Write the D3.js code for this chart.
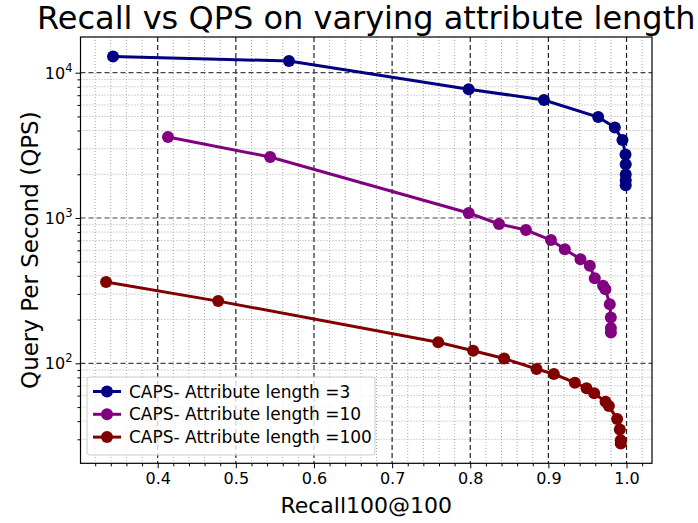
<!DOCTYPE html>
<html><head><meta charset="utf-8">
<script src="https://cdn.jsdelivr.net/npm/d3@7"></script>
<style>body{margin:0;background:#fff}svg{display:block;font-family:"DejaVu Sans",sans-serif}</style>
</head><body><svg id="c" width="698" height="523"></svg>
<script>
const seriesNames = ["CAPS- Attribute length =3","CAPS- Attribute length =10","CAPS- Attribute length =100"];
const seriesColors = ["#000080","#800080","#800000"];
const recall3 = [0.3428,0.568,0.798,0.8943,0.9637,0.985,0.9948,0.9987,0.999,0.999,0.999,0.999];
const qps3    = [12950,12030,7700,6490,4950,4200,3440,2740,2340,1990,1820,1680];
const recall10 = [0.4132,0.5439,0.798,0.8368,0.8713,0.9033,0.921,0.9411,0.953,0.9594,0.970,0.973,0.9786,0.9799,0.980,0.980];
const qps10    = [3610,2630,1082,910,827,705,610,520,470,385,342,323,255,207,175,163];
const recall100 = [0.3339,0.4774,0.759,0.8037,0.8434,0.8848,0.907,0.9339,0.9488,0.9586,0.9731,0.9774,0.988,0.9914,0.9926,0.9926];
const qps100    = [363,268,139.5,122,108,91.4,84.4,73.6,67.3,62.2,54.4,50.8,41.4,35.1,29.6,28.1];
const xTicks = [0.4,0.5,0.6,0.7,0.8,0.9,1.0];
const yTicks = [100,1000,10000];

const series = [
  {name: seriesNames[0], color: seriesColors[0], x: recall3, y: qps3},
  {name: seriesNames[1], color: seriesColors[1], x: recall10, y: qps10},
  {name: seriesNames[2], color: seriesColors[2], x: recall100, y: qps100}
];

const L=80.5, R=652, T=37, B=463.3;
const svg = d3.select("#c");
const x = d3.scaleLinear().domain([0.3012,1.0326]).range([L,R]);
const y = d3.scaleLog().domain([Math.pow(10,1.312),Math.pow(10,4.2457)]).range([B,T]);

const xMinor = d3.range(0.32,1.031,0.02).filter(v=>Math.abs(v*10-Math.round(v*10))>1e-6);
const yMinor = [];
[10,100,1000,10000].forEach(d=>{for(let k=2;k<=9;k++){const v=d*k; if(v>=y.domain()[0]&&v<=y.domain()[1]) yMinor.push(v);}});
const g = svg.append("g");
g.selectAll(".xm").data(xMinor).join("line").attr("x1",d=>x(d)).attr("x2",d=>x(d)).attr("y1",T).attr("y2",B)
 .attr("stroke","#aaaaaa").attr("stroke-width",1).attr("stroke-dasharray","1,2");
g.selectAll(".ym").data(yMinor).join("line").attr("y1",d=>y(d)).attr("y2",d=>y(d)).attr("x1",L).attr("x2",R)
 .attr("stroke","#aaaaaa").attr("stroke-width",1).attr("stroke-dasharray","1,2");
g.selectAll(".xM").data(xTicks).join("line").attr("x1",d=>x(d)).attr("x2",d=>x(d)).attr("y1",T).attr("y2",B)
 .attr("stroke","#222").attr("stroke-width",1.2).attr("stroke-dasharray","5,3");
g.selectAll(".yM").data(yTicks).join("line").attr("y1",d=>y(d)).attr("y2",d=>y(d)).attr("x1",L).attr("x2",R)
 .attr("stroke","#444").attr("stroke-width",1.2).attr("stroke-dasharray","5,3");

series.forEach(s=>{
  const pts = s.x.map((v,i)=>[v,s.y[i]]);
  svg.append("path").datum(pts).attr("fill","none").attr("stroke",s.color).attr("stroke-width",3)
    .attr("d",d3.line().x(d=>x(d[0])).y(d=>y(d[1])));
  svg.append("g").selectAll("circle").data(pts).join("circle")
    .attr("cx",d=>x(d[0])).attr("cy",d=>y(d[1])).attr("r",6).attr("fill",s.color);
});

svg.append("rect").attr("x",L).attr("y",T).attr("width",R-L).attr("height",B-T).attr("fill","none").attr("stroke","#000").attr("stroke-width",1.2);

const xa = svg.append("g").attr("transform",`translate(0,${B})`);
xa.call(d3.axisBottom(x).tickValues(xTicks).tickFormat(d3.format(".1f")).tickSize(5).tickPadding(4));
xa.append("g").call(d3.axisBottom(x).tickValues(xMinor).tickFormat("").tickSize(3));
xa.selectAll(".domain").remove();
xa.selectAll("text").attr("font-size",16).attr("font-family","DejaVu Sans").attr("fill","#000");
xa.selectAll("line").attr("stroke","#000");

const ya = svg.append("g").attr("transform",`translate(${L},0)`);
ya.call(d3.axisLeft(y).tickValues(yTicks).tickFormat("").tickSize(5));
ya.append("g").call(d3.axisLeft(y).tickValues(yMinor).tickFormat("").tickSize(3));
ya.selectAll(".domain").remove();
ya.selectAll("line").attr("stroke","#000");
yTicks.forEach(v=>{
  const t = svg.append("text").attr("x",L-8).attr("y",y(v)+6).attr("text-anchor","end").attr("font-size",16).attr("fill","#000");
  t.append("tspan").text("10");
  t.append("tspan").attr("dy",-7).attr("font-size",11.5).text(Math.round(Math.log10(v)));
});

svg.append("text").attr("x",(L+R)/2).attr("y",29).attr("text-anchor","middle").attr("font-size",32).text("Recall vs QPS on varying attribute length");
svg.append("text").attr("x",(L+R)/2).attr("y",513).attr("text-anchor","middle").attr("font-size",22).text("Recall100@100");
svg.append("text").attr("transform",`translate(${38},${(T+B)/2}) rotate(-90)`).attr("text-anchor","middle").attr("font-size",23).text("Query Per Second (QPS)");

const lg = svg.append("g");
lg.append("rect").attr("x",87).attr("y",377).attr("width",288).attr("height",78).attr("rx",3)
  .attr("fill","rgba(255,255,255,0.8)").attr("stroke","#ccc").attr("stroke-width",1);
series.forEach((s,i)=>{
  const cy = 391.5 + i*22.8;
  lg.append("line").attr("x1",93).attr("x2",121).attr("y1",cy).attr("y2",cy).attr("stroke",s.color).attr("stroke-width",3);
  lg.append("circle").attr("cx",107).attr("cy",cy).attr("r",6).attr("fill",s.color);
  lg.append("text").attr("x",129).attr("y",cy+6).attr("font-size",17).attr("fill","#000").text(s.name);
});
</script></body></html>
